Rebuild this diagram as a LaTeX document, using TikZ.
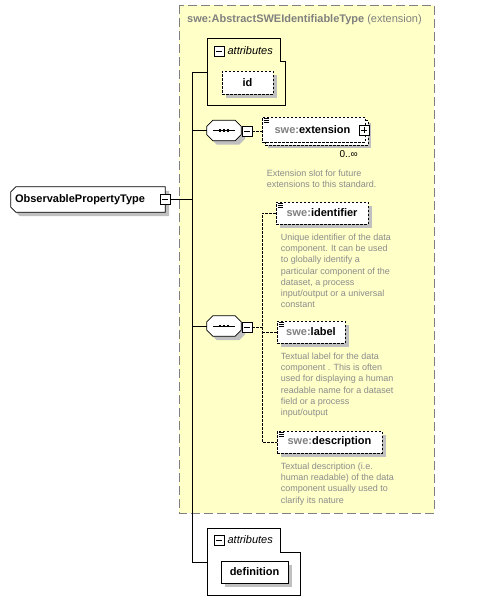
\documentclass[tikz,border=0pt]{standalone}
\usepackage{fontspec}
\setmainfont{Liberation Sans}
\usetikzlibrary{positioning,shadows}
\definecolor{bgyel}{RGB}{255,255,200}
\definecolor{txgray}{RGB}{140,140,140}
\definecolor{bdgray}{RGB}{128,128,128}
\definecolor{shgray}{RGB}{192,192,192}
\tikzset{
  boxshadow/.style={general shadow={fill=shgray, shadow xshift=#1, shadow yshift=-#1}},
  boxshadow/.default=4pt,
  elembase/.style={draw, fill=white, line width=0.8pt, inner sep=0pt, minimum height=22pt,
    font=\fontsize{11}{13}\selectfont\bfseries},
  elem/.style={elembase, boxshadow},
  optelem/.style={elem, dash pattern=on 2.5pt off 1.5pt},
  listicon/.style={path picture={
      \draw[solid, line width=0.5pt] ([shift={(1.5pt,-1.5pt)}]path picture bounding box.north west) -- ++(5pt,0pt);
      \draw[solid, line width=0.5pt] ([shift={(1.5pt,-3.3pt)}]path picture bounding box.north west) -- ++(5pt,0pt);
      \draw[solid, line width=0.5pt] ([shift={(1.5pt,-5.1pt)}]path picture bounding box.north west) -- ++(5pt,0pt);}},
  pm/.style={draw, fill=white, line width=0.8pt, minimum size=10pt, inner sep=0pt,
    general shadow={fill=black, shadow xshift=0.8pt, shadow yshift=-0.8pt},
    path picture={\draw[line width=0.8pt] ([xshift=-3pt]path picture bounding box.center) -- ([xshift=3pt]path picture bounding box.center);}},
  plusbox/.style={pm,
    path picture={\draw[line width=0.8pt] ([xshift=-3pt]path picture bounding box.center) -- ([xshift=3pt]path picture bounding box.center);
      \draw[line width=0.8pt] ([yshift=-3pt]path picture bounding box.center) -- ([yshift=3pt]path picture bounding box.center);}},
  seq/.style={minimum width=34pt, minimum height=20pt, inner sep=0pt},
  desc/.style={inner sep=0pt, align=left, text=txgray, font=\fontsize{9}{11.3}\selectfont},
  attrlabel/.style={inner sep=0pt, font=\fontsize{11}{13}\selectfont\itshape},
  conn/.style={line width=0.8pt},
  optconn/.style={line width=0.8pt, dash pattern=on 2.5pt off 1.5pt}
}
% octagon round a sequence node
\newcommand{\seqframe}[1]{%
  \filldraw[conn, fill=white, boxshadow] ([xshift=6pt]#1.north west) -- ([xshift=-6pt]#1.north east)
    -- ([yshift=-6pt]#1.north east) -- ([yshift=6pt]#1.south east) -- ([xshift=-6pt]#1.south east)
    -- ([xshift=6pt]#1.south west) -- ([yshift=6pt]#1.south west) -- ([yshift=-6pt]#1.north west) -- cycle;
  \draw[conn] ([xshift=-11pt]#1.center) -- ([xshift=11pt]#1.center);
  \fill[black] ([xshift=-4pt]#1.center) +(-1.3pt,-1.3pt) rectangle +(1.3pt,1.3pt);
  \fill[black] (#1.center) +(-1.3pt,-1.3pt) rectangle +(1.3pt,1.3pt);
  \fill[black] ([xshift=4pt]#1.center) +(-1.3pt,-1.3pt) rectangle +(1.3pt,1.3pt);}
\begin{document}
\begin{tikzpicture}[x=1pt, y=-1pt]
\useasboundingbox (0,0) rectangle (477,613);
% extension frame
\draw[bdgray, fill=bgyel, line width=0.8pt, dash pattern=on 9pt off 4pt] (179,5) rectangle (434,513);
\node[anchor=base west, inner sep=0pt, text=bdgray, font=\fontsize{11}{13}\selectfont] (base) at (187,23)
  {\textbf{swe:AbstractSWEIdentifiableType} (extension)};

% attributes of the base type
\draw[conn] (207,38) -- (280,38) -- (280,61) -- (285,61) -- (285,105) -- (207,105) -- cycle;
\node[pm] (am1) at (219,51) {};
\node[attrlabel, right=3pt of am1] (al1) {attributes};
\node[optelem, minimum width=51pt, minimum height=23pt] (id) at (247.5,82.5) {id};

% root
\node[minimum width=154pt, minimum height=25pt, inner sep=0pt] (opt) at (88,199.5) {};
\filldraw[conn, fill=white, boxshadow] ([xshift=5pt]opt.north west) -- (opt.north east) -- (opt.south east)
  -- ([xshift=5pt]opt.south west) -- ([yshift=5pt]opt.south west) -- ([yshift=-5pt]opt.north west) -- cycle;
\node[font=\fontsize{11}{13}\selectfont\bfseries, anchor=west, inner sep=0pt] (optname) at ([xshift=4pt]opt.west)
  {ObservablePropertyType};
\node[pm] (om) at (165,199.5) {};

% first sequence
\node[seq] (s1) at (224,130.5) {};
\seqframe{s1}
\node[pm] (m1) at (247,131) {};
\node[elembase, dash pattern=on 2.5pt off 1.5pt, minimum width=103pt, minimum height=25pt,
  boxshadow=6pt,
  general shadow={fill=white, draw=black, line width=0.8pt, dash pattern=on 2.5pt off 1.5pt,
    shadow xshift=3pt, shadow yshift=-3pt}, listicon] (ext) at (313.5,129.5)
  {\textcolor{bdgray}{swe:}extension\hspace*{2pt}};
\node[plusbox] (px) at (364,130) {};
\node[anchor=base east, inner sep=0pt, font=\fontsize{10}{12}\selectfont] (mult) at (358,157) {0..∞};
\node[desc, below=27pt of ext.south west, anchor=north west, xshift=5pt] (extd)
  {Extension slot for future\\extensions to this standard.};

% second sequence
\node[seq] (s2) at (224,326) {};
\seqframe{s2}
\node[pm] (m2) at (247,327) {};
\node[optelem, listicon, minimum width=92pt] (idf) at (322,213) {\textcolor{bdgray}{swe:}identifier};
\node[desc, below=9pt of idf.south west, anchor=north west, xshift=5pt] (idfd)
  {Unique identifier of the data\\component. It can be used\\to globally identify a\\particular component of the\\dataset, a process\\input/output or a universal\\constant};
\node[optelem, listicon, minimum width=68pt] (lbl) at (311,332) {\textcolor{bdgray}{swe:}label};
\node[desc, below=9pt of lbl.south west, anchor=north west, xshift=4pt] (lbld)
  {Textual label for the data\\component . This is often\\used for displaying a human\\readable name for a dataset\\field or a process\\input/output};
\node[optelem, listicon, minimum width=105pt] (dsc) at (329.5,442) {\textcolor{bdgray}{swe:}description};
\node[desc, below=9pt of dsc.south west, anchor=north west, xshift=4pt] (dscd)
  {Textual description (i.e.\\human readable) of the data\\component usually used to\\clarify its nature};

% own attributes
\draw[conn] (207,528) -- (280,528) -- (280,552) -- (300,552) -- (300,595) -- (207,595) -- cycle;
\node[pm] (am2) at (219,540) {};
\node[attrlabel, right=3pt of am2] (al2) {attributes};
\node[elem, minimum width=67pt] (def) at (254.5,572) {definition};

% connectors
\coordinate (t1) at (192,72);
\coordinate (t2) at (192,562);
\coordinate (at1) at (207,72);
\coordinate (at2) at (207,562);
\coordinate (jn) at (262,327);
\draw[conn] (at1) -- (t1) -- (t2) -- (at2);
\draw[conn] (om.east) -- (om.east -| t1);
\draw[conn] (s1.west) -- (s1.west -| t1);
\draw[conn] (s2.west) -- (s2.west -| t1);
\draw[optconn] (m1.east) -- (m1.east -| ext.west);
\draw[optconn] (m2.east) -- (jn);
\draw[optconn] (idf.west) -| (jn) |- (dsc.west);
\draw[optconn] (jn |- lbl.west) -- (lbl.west);
\end{tikzpicture}
\end{document}
